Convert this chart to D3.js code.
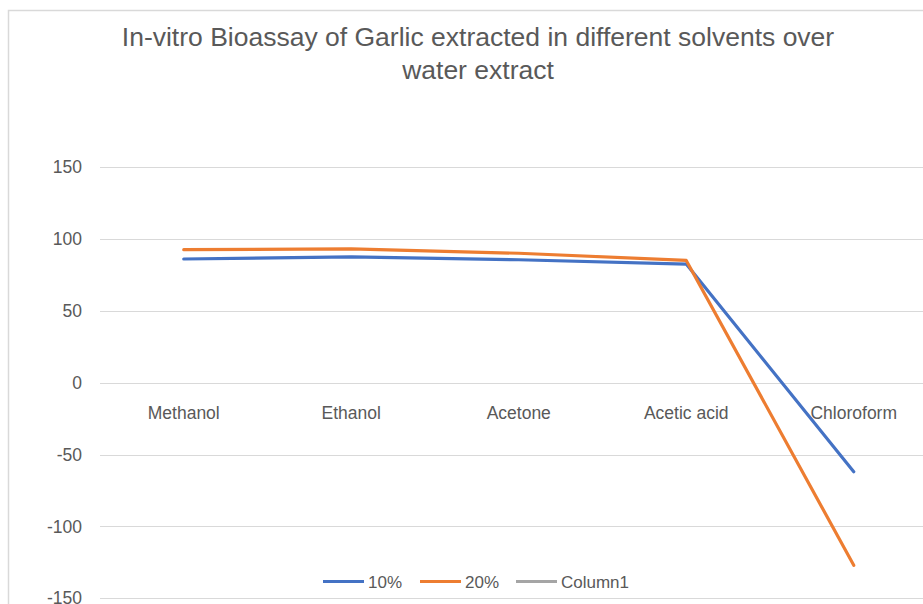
<!DOCTYPE html>
<html>
<head>
<meta charset="utf-8">
<script src="https://cdn.jsdelivr.net/npm/d3@7"></script>
<style>
  html, body { margin: 0; padding: 0; background: #fff; overflow: hidden; }
  svg { display: block; font-family: "Liberation Sans", Arial, sans-serif; }
</style>
</head>
<body>
<svg id="chart" width="923" height="604"></svg>
<script>
// Solvent extracts compared against the water extract
const solvents = ["Methanol", "Ethanol", "Acetone", "Acetic acid", "Chloroform"];
const pct10 = [86, 87.5, 85.5, 82.5, -62];
const pct20 = [92.5, 93, 90, 85, -127];
const column1 = [];   // empty series, listed in the legend only
const yTicks = [-150, -100, -50, 0, 50, 100, 150];
const seriesNames = ["10%", "20%", "Column1"];
const seriesColors = ["#4472C4", "#ED7D31", "#A5A5A5"];

const svg = d3.select("#chart");
const textColor = "#595959";
const gridColor = "#d9d9d9";

// chart frame
svg.append("path")
  .attr("d", "M8.5,604 V10.5 H923")
  .attr("fill", "none")
  .attr("stroke", gridColor)
  .attr("stroke-width", 1.5);

// title
const title = svg.append("text")
  .attr("x", 478)
  .attr("text-anchor", "middle")
  .attr("fill", textColor)
  .attr("font-size", 26.5);
title.append("tspan").attr("x", 478).attr("y", 46)
  .text("In-vitro Bioassay of Garlic extracted in different solvents over");
title.append("tspan").attr("x", 478).attr("y", 79)
  .text("water extract");

const x = d3.scaleBand().domain(solvents).range([100, 937.5]).padding(0);
const y = d3.scaleLinear().domain([-150, 150]).range([598.3, 167]);

// horizontal gridlines
svg.append("g")
  .selectAll("line")
  .data(yTicks)
  .join("line")
  .attr("x1", 100).attr("x2", 940)
  .attr("y1", d => Math.round(y(d)) + 0.5)
  .attr("y2", d => Math.round(y(d)) + 0.5)
  .attr("stroke", gridColor)
  .attr("stroke-width", 1);

// value axis labels (plain hyphen for negatives)
const yAxis = d3.axisLeft(y).tickValues(yTicks).tickSize(0).tickPadding(0)
  .tickFormat(d => String(d));
const yg = svg.append("g").attr("transform", "translate(82,0)").call(yAxis);
yg.select(".domain").remove();
yg.selectAll("text").attr("fill", textColor).attr("font-size", 17.5)
  .attr("font-family", "'Liberation Sans', Arial, sans-serif");

// category labels sit just below the zero line
const xAxis = d3.axisBottom(x).tickSize(0).tickPadding(0);
const xg = svg.append("g").attr("transform", "translate(0,407)").call(xAxis);
xg.select(".domain").remove();
xg.selectAll("text").attr("fill", textColor).attr("font-size", 17.5)
  .attr("font-family", "'Liberation Sans', Arial, sans-serif");

// series lines
const line = d3.line()
  .x((d, i) => x(solvents[i]) + x.bandwidth() / 2)
  .y(d => y(d));

[pct10, pct20, column1].forEach((vals, k) => {
  if (!vals.length) return;
  svg.append("path")
    .datum(vals)
    .attr("d", line)
    .attr("fill", "none")
    .attr("stroke", seriesColors[k])
    .attr("stroke-width", 3.2)
    .attr("stroke-linejoin", "round")
    .attr("stroke-linecap", "round");
});

// legend
const legendX = [323, 420, 516];
const lg = svg.append("g");
seriesNames.forEach((name, k) => {
  lg.append("line")
    .attr("x1", legendX[k]).attr("x2", legendX[k] + 41)
    .attr("y1", 581.5).attr("y2", 581.5)
    .attr("stroke", seriesColors[k])
    .attr("stroke-width", 3.2);
  lg.append("text")
    .attr("x", legendX[k] + 45).attr("y", 587.5)
    .attr("fill", textColor)
    .attr("font-size", 17)
    .text(name);
});
</script>
</body>
</html>
